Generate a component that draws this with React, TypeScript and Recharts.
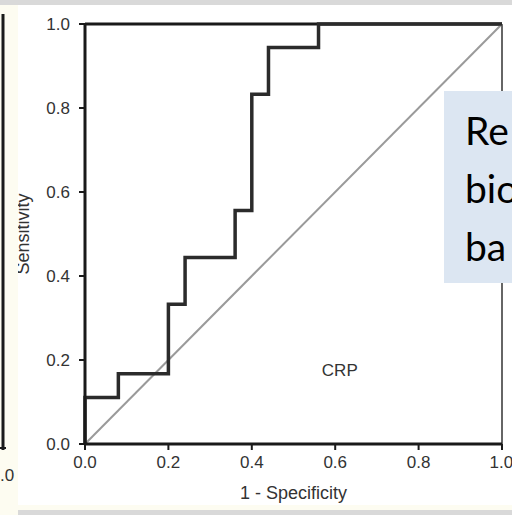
import React from "react";
import { LineChart, Line, XAxis, YAxis, ReferenceLine, ReferenceDot } from "recharts";

// ROC corner points (1 - specificity, sensitivity)
const fpr = [0, 0, 0.08, 0.2, 0.24, 0.36, 0.4, 0.44, 0.56, 1];
const tpr = [0, 0.111, 0.167, 0.333, 0.444, 0.556, 0.833, 0.944, 1, 1];

const tickValues = [0, 0.2, 0.4, 0.6, 0.8, 1];
const tickLabels = ["0.0", "0.2", "0.4", "0.6", "0.8", "1.0"];

const boxLines = ["Re", "bio", "ba"];

const rocData = fpr.map((x, i) => ({ x, y: tpr[i] }));

const font = "'Liberation Sans', Arial, sans-serif";
const textColor = "#333";
const tickStyle = { fill: textColor, fontSize: 17, fontFamily: font };

function SensLabel(props: any) {
  const vb = props.viewBox || {};
  const x = vb.x + 13;
  const y = vb.y + vb.height / 2;
  return (
    <text
      x={x}
      y={y}
      transform={`rotate(-90 ${x} ${y})`}
      textAnchor="middle"
      dominantBaseline="central"
      fill={textColor}
      fontSize={18}
      fontFamily={font}
    >
      Sensitivity
    </text>
  );
}

export default function App() {
  return (
    <div
      style={{
        position: "absolute",
        left: 0,
        top: 0,
        width: 512,
        height: 515,
        background: "#fff",
        overflow: "hidden",
      }}
    >
      <LineChart
        width={512}
        height={515}
        data={rocData}
        margin={{ top: 24, right: 10, bottom: 11, left: 10 }}
      >
        <XAxis
          dataKey="x"
          type="number"
          domain={[0, 1]}
          ticks={tickValues}
          tickFormatter={(v: number, i: number) => tickLabels[i]}
          axisLine={{ stroke: "#1a1a1a", strokeWidth: 3 }}
          tickLine={{ stroke: "#1a1a1a", strokeWidth: 2 }}
          tickSize={6}
          tickMargin={6}
          tick={tickStyle}
          height={60}
          label={{
            value: "1 - Specificity",
            position: "insideBottom",
            offset: 5,
            fill: textColor,
            fontSize: 18,
            fontFamily: font,
          }}
        />
        <YAxis
          type="number"
          domain={[0, 1]}
          ticks={tickValues}
          tickFormatter={(v: number, i: number) => tickLabels[i]}
          axisLine={{ stroke: "#1a1a1a", strokeWidth: 3 }}
          tickLine={{ stroke: "#1a1a1a", strokeWidth: 2 }}
          tickSize={6}
          tickMargin={9}
          tick={tickStyle}
          width={75}
          label={<SensLabel />}
        />
        <ReferenceLine y={1} stroke="#1a1a1a" strokeWidth={3} />
        <ReferenceLine x={1} stroke="#666" strokeWidth={2} />
        <ReferenceLine
          segment={[
            { x: 0, y: 0 },
            { x: 1, y: 1 },
          ]}
          stroke="#9a9a9a"
          strokeWidth={2}
        />
        <Line
          dataKey="y"
          type="stepAfter"
          stroke="#2b2b2b"
          strokeWidth={3.5}
          dot={false}
          isAnimationActive={false}
        />
        <ReferenceDot
          x={0.611}
          y={0.176}
          r={0}
          label={{ value: "CRP", position: "center", fill: textColor, fontSize: 17, fontFamily: font }}
        />
      </LineChart>

      {/* slide background pieces */}
      <div style={{ position: "absolute", left: 0, top: 0, width: 512, height: 5, background: "#d9d9d9" }} />
      <div style={{ position: "absolute", left: 0, top: 5, width: 18, height: 510, background: "#fdfcf1" }} />
      <div style={{ position: "absolute", left: 18, top: 505, width: 494, height: 5, background: "#fdfcf1" }} />
      <div style={{ position: "absolute", left: 18, top: 510, width: 494, height: 5, background: "#d9d9d9" }} />

      {/* edge of the neighbouring chart */}
      <svg style={{ position: "absolute", left: 0, top: 0 }} width={20} height={515}>
        <line x1={3} y1={14} x2={3} y2={450} stroke="#1a1a1a" strokeWidth={3} />
        <line x1={0} y1={448} x2={6} y2={448} stroke="#1a1a1a" strokeWidth={2} />
        <text x={0} y={481} fill={textColor} fontSize={17} fontFamily={font}>
          .0
        </text>
      </svg>

      {/* overlapping slide text box */}
      <div
        style={{
          position: "absolute",
          left: 444,
          top: 91,
          width: 68,
          height: 192,
          background: "#dce6f2",
          overflow: "hidden",
        }}
      >
        {boxLines.map((t, i) => (
          <div
            key={t}
            style={{
              position: "absolute",
              left: 21,
              top: 14 + i * 58,
              fontFamily: "Lato, 'Open Sans', sans-serif",
              fontSize: 39,
              lineHeight: "50px",
              color: "#000",
              whiteSpace: "nowrap",
            }}
          >
            {t}
          </div>
        ))}
      </div>
    </div>
  );
}
